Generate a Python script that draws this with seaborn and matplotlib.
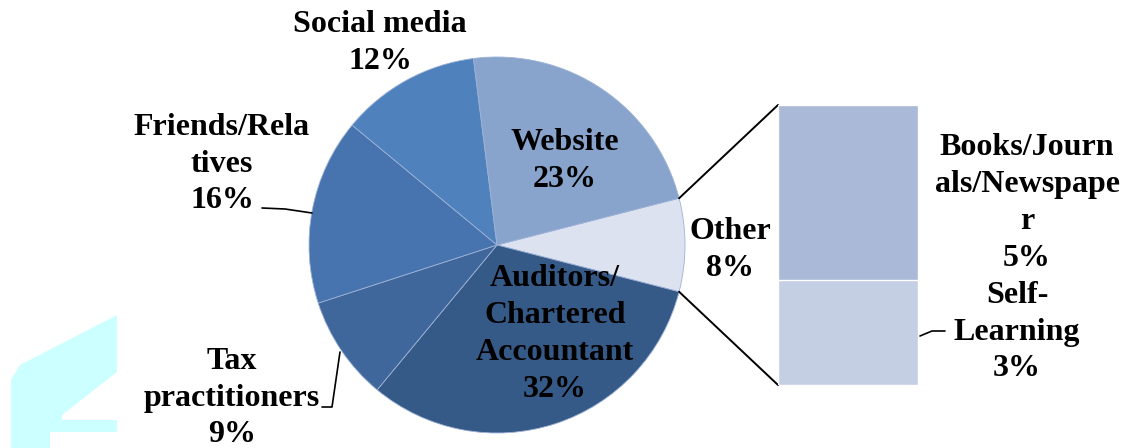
import matplotlib
matplotlib.use("Agg")
import matplotlib.pyplot as plt
import matplotlib.patches as mpatches
import seaborn as sns
import numpy as np

# data
pie_labels = ["Other", "Auditors/\nChartered\nAccountant", "Tax\npractitioners",
              "Friends/Rela\ntives", "Social media", "Website"]
pie_values = [8, 32, 9, 16, 12, 23]
pie_colors = ["#DCE2F0", "#365A88", "#3F679B", "#4774AE", "#4F81BD", "#88A3CC"]

bar_labels = ["Books/Journ\nals/Newspape\nr", "Self-\nLearning"]
bar_values = [5, 3]
bar_colors = ["#A9B9D7", "#C4CFE3"]

sns.set_theme(style="white")
plt.rcParams["font.family"] = ["Liberation Serif", "DejaVu Serif"]
plt.rcParams["font.weight"] = "bold"
plt.rcParams["text.color"] = "black"

W, H = 1123, 448
fig = plt.figure(figsize=(W / 100, H / 100), dpi=100)

# main axes in pixel units (y up)
ax = fig.add_axes([0, 0, 1, 1])
cx, cy, r = 497, H - 245, 188
start = 360 * pie_values[0] / 100 / 2
wedges, _ = ax.pie(pie_values, colors=pie_colors, startangle=start, counterclock=False,
                   center=(cx, cy), radius=r,
                   wedgeprops=dict(linewidth=0.6, edgecolor="#9DB2D6"))
ax.set_xlim(0, W)
ax.set_ylim(0, H)
ax.set_aspect("auto")
ax.axis("off")

# watermark shape at bottom-left
def px(pts):
    return [(x, H - y) for x, y in pts]

ax.add_patch(mpatches.Polygon(px([(11, 448), (11, 380), (20, 365), (117, 315), (117, 372),
                                  (62, 415), (62, 432), (50, 432), (50, 448)]),
                              closed=True, color="#CCFFFF", lw=0, zorder=0))
ax.add_patch(mpatches.Rectangle((62, H - 432), 55, 12, color="#CCFFFF", lw=0, zorder=0))

# labels
fs = 23
ls = 1.36
pct = [f"{v}%" for v in pie_values]
label_pos = [(730, 250), (555, 334), (232, 398), (222, 164), (380, 43), (565, 161)]
for lab, p, (x, y) in zip(pie_labels, pct, label_pos):
    ax.text(x, H - y, f"{lab}\n{p}", ha="center", va="center", fontsize=fs,
            fontweight="bold", linespacing=ls, color="black")

# leader lines
ax.plot([262, 285, 312], [H - 208, H - 209, H - 213], color="black", lw=1.2)
ax.plot([322, 332, 340], [H - 407, H - 407, H - 352], color="black", lw=1.2)
ax.plot([920, 932, 945], [H - 336, H - 331, H - 331], color="black", lw=1.2)

# connector lines from pie to bar
a1 = np.deg2rad(start)
ax.plot([cx + r * np.cos(a1), 778], [cy + r * np.sin(a1), H - 105], color="black", lw=1.4)
ax.plot([cx + r * np.cos(-a1), 778], [cy + r * np.sin(-a1), H - 385], color="black", lw=1.4)

# stacked bar of "Other"
bx = fig.add_axes([778 / W, (H - 385) / H, 140 / W, 280 / H])
sns.barplot(x=["Other"], y=[sum(bar_values)], color=bar_colors[0], width=1,
            saturation=1, ax=bx)
sns.barplot(x=["Other"], y=[bar_values[1]], color=bar_colors[1], width=1,
            saturation=1, ax=bx)
bx.set_xlim(-0.5, 0.5)
bx.set_ylim(0, sum(bar_values))
bx.axis("off")

ax.text(1027, H - 203, f"{bar_labels[0]}\n{bar_values[0]}%", ha="center", va="center",
        fontsize=fs, fontweight="bold", linespacing=ls, color="black")
ax.text(1017, H - 332, f"{bar_labels[1]}\n{bar_values[1]}%", ha="center", va="center",
        fontsize=fs, fontweight="bold", linespacing=ls, color="black")

fig.savefig("out.png", dpi=100)
